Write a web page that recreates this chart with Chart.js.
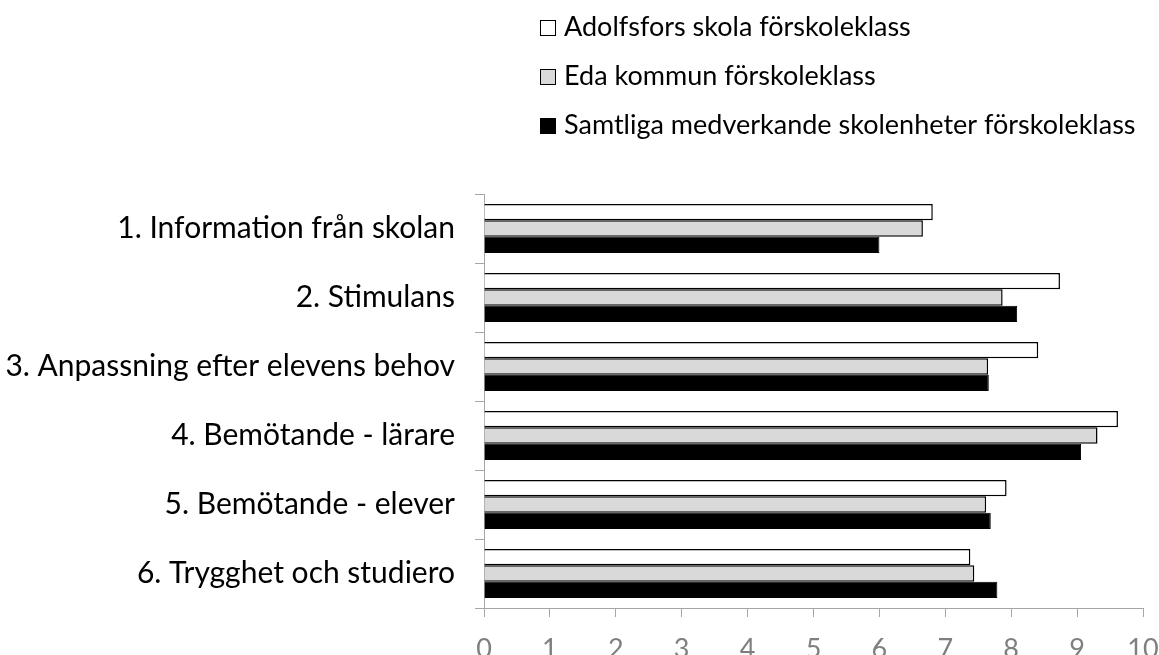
<!DOCTYPE html>
<html>
<head>
<meta charset="utf-8">
<script src="https://cdn.jsdelivr.net/npm/chart.js@4.4.0/dist/chart.umd.min.js"></script>
<style>
    html, body { margin: 0; padding: 0; background: #fff; }
    #wrap { width: 1159px; height: 655px; }
</style>
</head>
<body>
<div id="wrap"><canvas id="chart" width="1159" height="655"></canvas></div>
<script>
const categories = [
    '1. Information från skolan',
    '2. Stimulans',
    '3. Anpassning efter elevens behov',
    '4. Bemötande - lärare',
    '5. Bemötande - elever',
    '6. Trygghet och studiero'
];
const seriesNames = [
    'Adolfsfors skola förskoleklass',
    'Eda kommun förskoleklass',
    'Samtliga medverkande skolenheter förskoleklass'
];
const adolfsfors = [6.81, 8.74, 8.41, 9.62, 7.93, 7.38];
const edaKommun = [6.66, 7.87, 7.65, 9.31, 7.62, 7.44];
const samtliga = [6.0, 8.09, 7.66, 9.06, 7.69, 7.79];
const xTicks = [0, 1, 2, 3, 4, 5, 6, 7, 8, 9, 10];

const fontFamily = 'Lato, "Open Sans", sans-serif';
const axisGrey = '#a6a6a6';

// legend drawn as a vertical list in the top right, like the original
const listLegend = {
    id: 'listLegend',
    afterDraw(chart) {
        const ctx = chart.ctx;
        const baselines = [36, 85, 134];
        ctx.save();
        ctx.font = '27px ' + fontFamily;
        ctx.textBaseline = 'alphabetic';
        ctx.textAlign = 'left';
        chart.data.datasets.forEach((ds, i) => {
            const y = baselines[i];
            ctx.fillStyle = ds.backgroundColor;
            ctx.fillRect(540.5, y - 15.5, 15, 15);
            ctx.strokeStyle = '#000';
            ctx.lineWidth = 1;
            ctx.strokeRect(540.5, y - 15.5, 15, 15);
            ctx.fillStyle = '#000';
            ctx.fillText(ds.label, 564, y);
        });
        ctx.restore();
    }
};

const ctx = document.getElementById('chart');
new Chart(ctx, {
    type: 'bar',
    data: {
        labels: categories,
        datasets: [
            {
                label: seriesNames[0],
                data: adolfsfors,
                backgroundColor: '#ffffff',
                borderColor: '#000000',
                borderWidth: 1.5,
            },
            {
                label: seriesNames[1],
                data: edaKommun,
                backgroundColor: '#d9d9d9',
                borderColor: '#000000',
                borderWidth: 1.5,
            },
            {
                label: seriesNames[2],
                data: samtliga,
                backgroundColor: '#000000',
                borderColor: '#000000',
                borderWidth: 1,
            }
        ]
    },
    options: {
        indexAxis: 'y',
        responsive: false,
        animation: false,
        maintainAspectRatio: false,
        layout: {
            padding: {top: 194, right: 16, left: 0, bottom: 0}
        },
        datasets: {
            bar: {
                categoryPercentage: 0.713,
                barPercentage: 1.0,
            }
        },
        plugins: {
            legend: {display: false},
            tooltip: {enabled: false},
        },
        scales: {
            x: {
                min: 0,
                max: 10,
                afterBuildTicks: (scale) => {
                    scale.ticks = xTicks.map((v) => ({value: v}));
                },
                afterFit: (scale) => {
                    scale.height = 47;
                    // the layout padding already leaves room for the last label
                    scale.paddingLeft = 0;
                    scale.paddingRight = 0;
                },
                grid: {
                    drawOnChartArea: false,
                    drawTicks: true,
                    tickLength: 9,
                    color: axisGrey,
                },
                border: {color: axisGrey, width: 1},
                ticks: {
                    color: '#7f7f7f',
                    font: {family: fontFamily, size: 27},
                    padding: 16,
                    maxRotation: 0,
                }
            },
            y: {
                afterFit: (scale) => {
                    scale.width = 484;
                },
                grid: {
                    offset: true,
                    drawOnChartArea: false,
                    drawTicks: true,
                    tickLength: 9,
                    color: axisGrey,
                },
                border: {color: axisGrey, width: 1},
                ticks: {
                    color: '#000000',
                    font: {family: fontFamily, size: 30},
                    padding: 20,
                }
            }
        }
    },
    plugins: [listLegend]
});
</script>
</body>
</html>
